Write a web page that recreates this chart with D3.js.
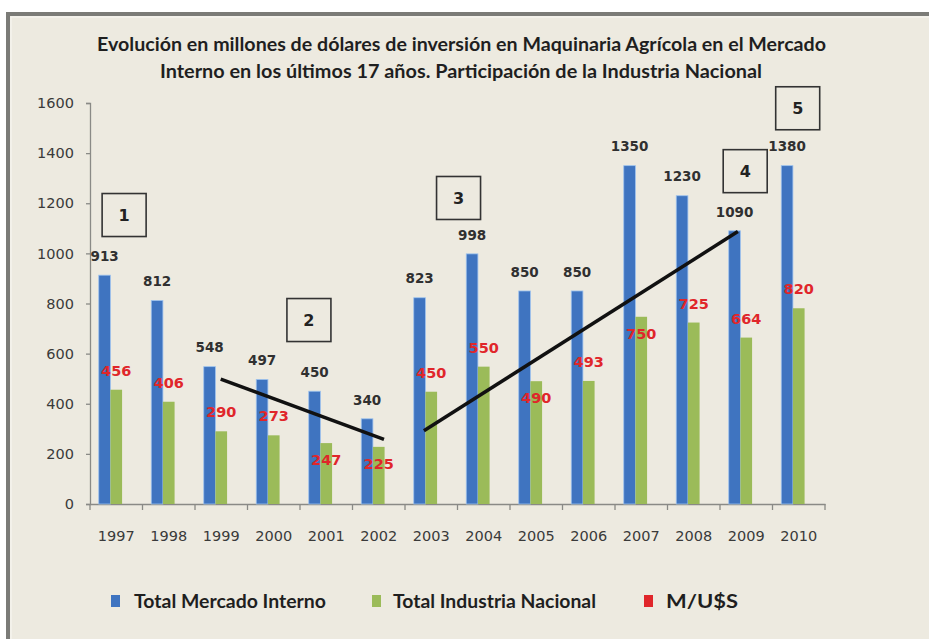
<!DOCTYPE html>
<html><head><meta charset="utf-8">
<script src="https://cdn.jsdelivr.net/npm/d3@7"></script>
<style>html,body{margin:0;padding:0;background:#fff;}svg{display:block;}</style>
</head><body>
<script>
// ---- data ----
const years = ["1997","1998","1999","2000","2001","2002","2003","2004","2005","2006","2007","2008","2009","2010"];
const seriesNames = ["Total Mercado Interno","Total Industria Nacional","M/U$S"];
const mercadoInterno = [913,812,548,497,450,340,823,998,850,850,1350,1230,1090,1350];
const mercadoInternoLabels = ["913","812","548","497","450","340","823","998","850","850","1350","1230","1090","1380"];
const industriaNacional = [456,408,290,274,243,228,448,548,490,491,747,724,664,781];
const industriaNacionalLabels = ["456","406","290","273","247","225","450","550","490","493","750","725","664","820"];
const industriaLabelSide = ["out","out","out","out","in","in","out","out","in","out","in","out","out","out"];
const yTicks = [0,200,400,600,800,1000,1200,1400,1600];
const titleLines = ["Evolución en millones de dólares de inversión en Maquinaria Agrícola en el Mercado",
                    "Interno en los últimos 17 años. Participación de la Industria Nacional"];
// annotation boxes: position in (category index, value)
const boxLabels = ["1","2","3","4","5"];
const boxAt = [[0.15,1153],[3.67,734],[6.52,1221],[11.98,1328],[12.98,1579]];
// trend lines: [startIndex, startValue, endIndex, endValue]
const trendLines = [[1.99,498,5.1,258],[5.86,292,11.84,1087]];

const W = 929, H = 639;
const colors = ["#3f74c0","#9bbb59","#e0262a"];
const svg = d3.select("body").append("svg").attr("width",W).attr("height",H);

// frame
svg.append("rect").attr("x",0).attr("y",0).attr("width",W).attr("height",H).attr("fill","#ffffff");
svg.append("rect").attr("x",8).attr("y",14).attr("width",W+20).attr("height",H+20)
  .attr("fill","#edeae0").attr("stroke","#7b7b77").attr("stroke-width",4);
svg.append("rect").attr("x",11).attr("y",17).attr("width",W+20).attr("height",H+20)
  .attr("fill","none").attr("stroke","#f7f6f0").attr("stroke-width",1.2);

// title
const titleBox = [[97,826,51],[160,762,78]];
titleLines.forEach((t,k)=>{
  svg.append("text").attr("x",titleBox[k][0]).attr("y",titleBox[k][2])
    .attr("textLength",titleBox[k][1]-titleBox[k][0]).attr("lengthAdjust","spacingAndGlyphs")
    .attr("font-family","Lato, 'Open Sans', sans-serif").attr("font-weight","bold")
    .attr("font-size",18).attr("fill","#1f1f1f").text(t);
});

// scales
const x = d3.scaleBand().domain(years).range([90,825]).paddingInner(0).paddingOuter(0);
const xs = d3.scaleBand().domain(seriesNames).range([0,x.bandwidth()]).paddingInner(0).paddingOuter(0.75);
const y = d3.scaleLinear().domain([0,1600]).range([504,103]);
const xi = d3.scaleLinear().domain([-0.5,13.5]).range([90,825]); // continuous category position

// y axis
const gy = svg.append("g").attr("transform","translate(90,0)")
  .call(d3.axisLeft(y).tickValues(yTicks).tickSize(4).tickPadding(12).tickFormat(d3.format("d")));
gy.selectAll("path,line").attr("stroke","#8a8a86").attr("stroke-width",1.3);
gy.selectAll("text").attr("font-family","'DejaVu Sans', Verdana, sans-serif").attr("font-size",14.5).attr("fill","#3a3a3a");

// x axis
const gx = svg.append("g").attr("transform","translate(0,504)")
  .call(d3.axisBottom(x).tickSize(0).tickPadding(27).tickSizeOuter(0));
gx.select(".domain").attr("stroke","#8a8a86").attr("stroke-width",1.3);
gx.selectAll("text").attr("font-family","'DejaVu Sans', Verdana, sans-serif").attr("font-size",14.5).attr("fill","#3a3a3a");
const bounds = years.map(d=>x(d)).concat([x(years[years.length-1])+x.bandwidth()]);
svg.append("g").selectAll("line").data(bounds).join("line")
  .attr("x1",d=>d).attr("x2",d=>d).attr("y1",504).attr("y2",510)
  .attr("stroke","#8a8a86").attr("stroke-width",1.3);

// bars
const gb = svg.append("g");
gb.selectAll("rect.mi").data(mercadoInterno).join("rect").attr("class","mi")
  .attr("x",(d,i)=>x(years[i])+xs(seriesNames[0])).attr("width",xs.bandwidth())
  .attr("y",d=>y(d)).attr("height",d=>y(0)-y(d)).attr("fill",colors[0])
  .attr("stroke","#9ec3ee").attr("stroke-width",0.8);
gb.selectAll("rect.in").data(industriaNacional).join("rect").attr("class","in")
  .attr("x",(d,i)=>x(years[i])+xs(seriesNames[1])).attr("width",xs.bandwidth())
  .attr("y",d=>y(d)).attr("height",d=>y(0)-y(d)).attr("fill",colors[1]);

// labels
svg.append("g").selectAll("text").data(mercadoInterno).join("text")
  .attr("x",(d,i)=>x(years[i])+xs(seriesNames[0])+xs.bandwidth()/2)
  .attr("y",d=>y(d)-19).attr("dy","0.35em").attr("text-anchor","middle")
  .attr("font-family","'DejaVu Sans', Verdana, sans-serif").attr("font-weight","bold")
  .attr("font-size",13.5).attr("fill","#303030").text((d,i)=>mercadoInternoLabels[i]);
svg.append("g").selectAll("text").data(industriaNacional).join("text")
  .attr("x",(d,i)=>x(years[i])+x.bandwidth()/2)
  .attr("y",(d,i)=>y(d)+(industriaLabelSide[i]==="out"?-19:17)).attr("dy","0.35em").attr("text-anchor","middle")
  .attr("font-family","'DejaVu Sans', Verdana, sans-serif").attr("font-weight","bold")
  .attr("font-size",14.5).attr("fill",colors[2]).text((d,i)=>industriaNacionalLabels[i]);

// trend lines
svg.append("g").selectAll("line").data(trendLines).join("line")
  .attr("x1",d=>xi(d[0])).attr("y1",d=>y(d[1])).attr("x2",d=>xi(d[2])).attr("y2",d=>y(d[3]))
  .attr("stroke","#111").attr("stroke-width",3.5);

// boxes
const gbx = svg.append("g").selectAll("g").data(boxAt).join("g")
  .attr("transform",d=>`translate(${xi(d[0])},${y(d[1])})`);
gbx.append("rect").attr("x",-22).attr("y",-21.5).attr("width",44).attr("height",43)
  .attr("fill","none").attr("stroke","#333").attr("stroke-width",1.6);
gbx.append("text").attr("text-anchor","middle").attr("dy","0.36em")
  .attr("font-family","'DejaVu Sans', sans-serif").attr("font-weight","bold").attr("font-size",16)
  .attr("fill","#222").text((d,i)=>boxLabels[i]);

// legend
const legendPos = [[111,134,326],[372,393,596],[644,666,738]];
const lg = svg.append("g").selectAll("g").data(seriesNames).join("g");
lg.append("rect").attr("x",(d,i)=>legendPos[i][0]).attr("y",595).attr("width",9).attr("height",12)
  .attr("fill",(d,i)=>colors[i]);
lg.append("text").attr("x",(d,i)=>legendPos[i][1]).attr("y",608)
  .attr("textLength",(d,i)=>legendPos[i][2]-legendPos[i][1]).attr("lengthAdjust","spacingAndGlyphs")
  .attr("font-family","Lato, 'Open Sans', sans-serif").attr("font-weight","bold").attr("font-size",18)
  .attr("fill","#1f1f1f").text(d=>d);
</script>
</body></html>
